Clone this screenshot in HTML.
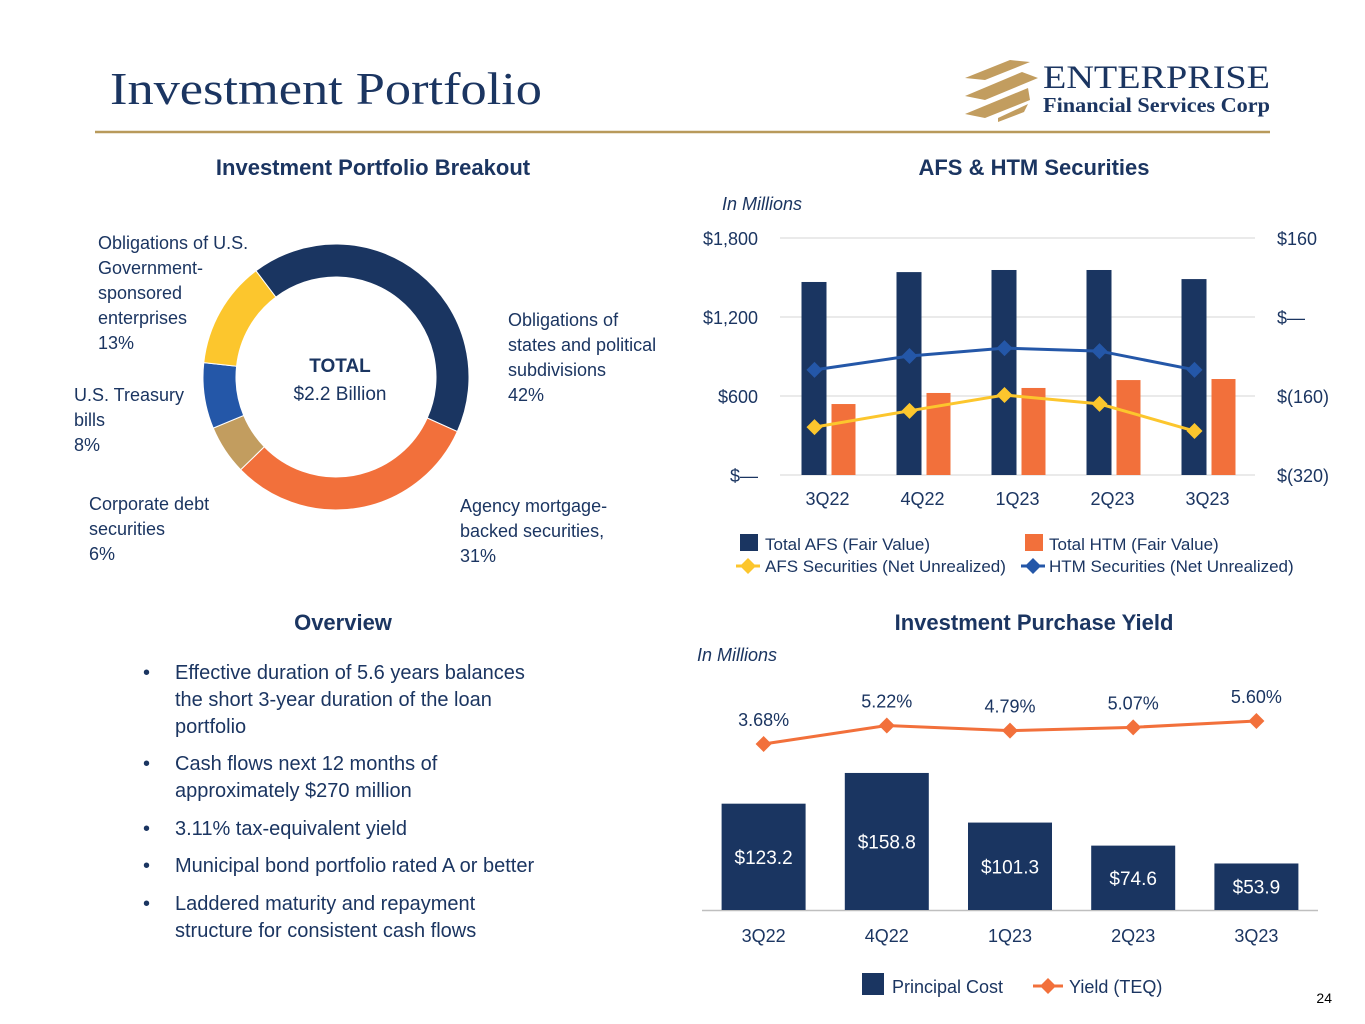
<!DOCTYPE html>
<html><head><meta charset="utf-8"><style>
html,body{margin:0;padding:0;background:#fff;}
svg{display:block;font-family:"Liberation Sans",sans-serif;}
</style></head><body>
<svg id="s" width="1365" height="1024" viewBox="0 0 1365 1024" xmlns="http://www.w3.org/2000/svg">
<text x="110" y="104" font-family="Liberation Serif,serif" font-size="46" fill="#1b3561" textLength="432" lengthAdjust="spacingAndGlyphs">Investment Portfolio</text>
<g>
<polygon points="965,78 1010,60 1030,62 985,80" fill="#c29d5f"/>
<polygon points="965,96 1022,72 1038,78 985,100" fill="#c29d5f"/>
<polygon points="965,114 1028,88 1030,100 985,118" fill="#c29d5f"/>
<polygon points="998,118 1028,104 1024,112 998,122" fill="#c29d5f"/>
<text x="1043" y="88" font-family="Liberation Serif,serif" font-size="33" fill="#1b3561" textLength="227" lengthAdjust="spacingAndGlyphs">ENTERPRISE</text>
<text x="1043" y="112" font-family="Liberation Serif,serif" font-size="21" font-weight="bold" fill="#1b3561" textLength="227" lengthAdjust="spacingAndGlyphs">Financial Services Corp</text>
</g>
<line x1="95" y1="132" x2="1270" y2="132" stroke="#b89a5b" stroke-width="2.5"/>

<text x="373" y="175" text-anchor="middle" font-size="22" font-weight="bold" fill="#1b3561">Investment Portfolio Breakout</text>
<text x="1034" y="175" text-anchor="middle" font-size="22" font-weight="bold" fill="#1b3561">AFS &amp; HTM Securities</text>
<text x="343" y="630" text-anchor="middle" font-size="22" font-weight="bold" fill="#1b3561">Overview</text>
<text x="1034" y="630" text-anchor="middle" font-size="22" font-weight="bold" fill="#1b3561">Investment Purchase Yield</text>

<g id="donut"></g>
<text x="340" y="372" text-anchor="middle" font-size="19" font-weight="bold" fill="#1b3561">TOTAL</text>
<text x="340" y="400" text-anchor="middle" font-size="19" fill="#1b3561">$2.2 Billion</text>
<g font-size="18" fill="#1b3561">
<text><tspan x="98" y="249">Obligations of U.S.</tspan><tspan x="98" y="274">Government-</tspan><tspan x="98" y="299">sponsored</tspan><tspan x="98" y="324">enterprises</tspan><tspan x="98" y="349">13%</tspan></text>
<text><tspan x="508" y="326">Obligations of</tspan><tspan x="508" y="351">states and political</tspan><tspan x="508" y="376">subdivisions</tspan><tspan x="508" y="401">42%</tspan></text>
<text><tspan x="74" y="401">U.S. Treasury</tspan><tspan x="74" y="426">bills</tspan><tspan x="74" y="451">8%</tspan></text>
<text><tspan x="89" y="510">Corporate debt</tspan><tspan x="89" y="535">securities</tspan><tspan x="89" y="560">6%</tspan></text>
<text><tspan x="460" y="512">Agency mortgage-</tspan><tspan x="460" y="537">backed securities,</tspan><tspan x="460" y="562">31%</tspan></text>
</g>

<text x="722" y="210" font-size="18" font-style="italic" fill="#1b3561">In Millions</text>
<g id="afs"></g>
<g font-size="17" fill="#1b3561">
<rect x="740" y="534" width="18" height="17" fill="#1a3561"/>
<text x="765" y="550">Total AFS (Fair Value)</text>
<rect x="1025" y="534" width="18" height="17" fill="#f2703b"/>
<text x="1049" y="550">Total HTM (Fair Value)</text>
<line x1="736" y1="566" x2="760" y2="566" stroke="#fcc62d" stroke-width="3"/>
<polygon points="748,558 756,566 748,574 740,566" fill="#fcc62d"/>
<text x="765" y="572">AFS Securities (Net Unrealized)</text>
<line x1="1021" y1="566" x2="1045" y2="566" stroke="#2457a8" stroke-width="3"/>
<polygon points="1033,558 1041,566 1033,574 1025,566" fill="#2457a8"/>
<text x="1049" y="572">HTM Securities (Net Unrealized)</text>
</g>

<g font-size="20" fill="#1b3561">
<text><tspan x="143" y="679">•</tspan><tspan x="175" y="679">Effective duration of 5.6 years balances</tspan><tspan x="175" y="706">the short 3-year duration of the loan</tspan><tspan x="175" y="733">portfolio</tspan></text>
<text><tspan x="143" y="770">•</tspan><tspan x="175" y="770">Cash flows next 12 months of</tspan><tspan x="175" y="797">approximately $270 million</tspan></text>
<text><tspan x="143" y="835">•</tspan><tspan x="175" y="835">3.11% tax-equivalent yield</tspan></text>
<text><tspan x="143" y="872">•</tspan><tspan x="175" y="872">Municipal bond portfolio rated A or better</tspan></text>
<text><tspan x="143" y="910">•</tspan><tspan x="175" y="910">Laddered maturity and repayment</tspan><tspan x="175" y="937">structure for consistent cash flows</tspan></text>
</g>

<text x="697" y="661" font-size="18" font-style="italic" fill="#1b3561">In Millions</text>
<g id="yld"></g>
<g font-size="18" fill="#1b3561">
<rect x="862" y="973" width="22" height="22" fill="#1a3561"/>
<text x="892" y="993">Principal Cost</text>
<line x1="1033" y1="986" x2="1063" y2="986" stroke="#f2703b" stroke-width="3"/>
<polygon points="1048,978 1056,986 1048,994 1040,986" fill="#f2703b"/>
<text x="1069" y="993">Yield (TEQ)</text>
</g>
<text x="1332" y="1003" text-anchor="end" font-size="14" fill="#000">24</text>
</svg>
<script>
const NS="http://www.w3.org/2000/svg";
const sliceNames=["states-political","agency-mbs","corporate-debt","treasury-bills","gse-obligations"];
const slicePct=[42,31,6,8,13];
const sliceColors=["#1a3561","#f2703b","#c29d5f","#2457a8","#fcc62d"];

const quarters=["3Q22","4Q22","1Q23","2Q23","3Q23"];
const afsFair=[1466,1541,1557,1557,1488];
const htmFair=[539,623,661,721,729];
const afsUnreal=[-223,-190,-158,-176,-231];
const htmUnreal=[-107,-79,-63,-69,-107];
const leftTicks=[0,600,1200,1800];
const leftTickLabels=["$—","$600","$1,200","$1,800"];
const rightTicks=[-320,-160,0,160];
const rightTickLabels=["$(320)","$(160)","$—","$160"];

const principal=[123.2,158.8,101.3,74.6,53.9];
const principalLabels=["$123.2","$158.8","$101.3","$74.6","$53.9"];
const yieldPct=[3.68,5.22,4.79,5.07,5.60];
const yieldLabels=["3.68%","5.22%","4.79%","5.07%","5.60%"];

function mk(tag,attrs,parent){const e=document.createElementNS(NS,tag);for(const k in attrs)e.setAttribute(k,attrs[k]);parent.appendChild(e);return e;}
function diamond(cx,cy,r,fill,parent){return mk("polygon",{points:`${cx},${cy-r} ${cx+r},${cy} ${cx},${cy+r} ${cx-r},${cy}`,fill:fill},parent);}

// Donut
(function(){
const g=document.getElementById("donut");
const cx=336,cy=377,R=133,r=100;
let a=-37*Math.PI/180;
const tot=slicePct.reduce((s,v)=>s+v,0);
slicePct.forEach((v,i)=>{
 const b=a+v/tot*2*Math.PI;
 const p=(ang,rad)=>[cx+rad*Math.sin(ang),cy-rad*Math.cos(ang)];
 const large=(b-a)>Math.PI?1:0;
 const [x1,y1]=p(a,R),[x2,y2]=p(b,R),[x3,y3]=p(b,r),[x4,y4]=p(a,r);
 const el=mk("path",{d:`M${x1},${y1}A${R},${R} 0 ${large} 1 ${x2},${y2}L${x3},${y3}A${r},${r} 0 ${large} 0 ${x4},${y4}Z`,fill:sliceColors[i],stroke:"#fff","stroke-width":1},g);
 
 
 a=b;
});
})();

// AFS & HTM chart
(function(){
const g=document.getElementById("afs");
const x0=780,x1=1255,yTop=238,yBot=475;
const yL=v=>yBot-(v-0)/(1800-0)*(yBot-yTop);
const yR=v=>yBot-(v+320)/(160+320)*(yBot-yTop);
const band=(x1-x0)/quarters.length;
const xc=i=>x0+band*(i+0.5);
leftTicks.forEach((t,i)=>{
 const ln=mk("line",{x1:x0,x2:x1,y1:yL(t),y2:yL(t),stroke:"#e3e3e3","stroke-width":1.5},g);
 
 
 const tx=mk("text",{x:758,y:yL(t)+7,"text-anchor":"end","font-size":18,fill:"#1b3561"},g);tx.textContent=leftTickLabels[i];
 
 
});
rightTicks.forEach((t,i)=>{
 const tx=mk("text",{x:1277,y:yR(t)+7,"font-size":18,fill:"#1b3561"},g);tx.textContent=rightTickLabels[i];
 
 
});
quarters.forEach((q,i)=>{
 const c=xc(i);
 const b1=mk("rect",{x:c-26,y:yL(afsFair[i]),width:25,height:yL(0)-yL(afsFair[i]),fill:"#1a3561"},g);
 
 
 const b2=mk("rect",{x:c+4,y:yL(htmFair[i]),width:24,height:yL(0)-yL(htmFair[i]),fill:"#f2703b"},g);
 
 
 const tx=mk("text",{x:c,y:505,"text-anchor":"middle","font-size":18,fill:"#1b3561"},g);tx.textContent=q;
 
 
});
[[htmUnreal,"#2457a8","htm"],[afsUnreal,"#fcc62d","afs"]].forEach(([arr,col,nm])=>{
 const pl=mk("polyline",{points:arr.map((v,i)=>`${xc(i)-13},${yR(v)}`).join(" "),fill:"none",stroke:col,"stroke-width":3},g);
 
 
 arr.forEach((v,i)=>{const d=diamond(xc(i)-13,yR(v),8,col,g);
  
  });
});
})();

// Yield chart
(function(){
const g=document.getElementById("yld");
const x0=702,x1=1318,base=910;
const band=(x1-x0)/quarters.length;
const xc=i=>x0+band*(i+0.5);
const yB=v=>base-v*0.863;
const yY=v=>744-(v-3.68)*12;
const ax=mk("line",{x1:x0,x2:x1,y1:base+0.5,y2:base+0.5,stroke:"#bfbfbf","stroke-width":1.5},g);


quarters.forEach((q,i)=>{
 const c=xc(i);
 const b=mk("rect",{x:c-42,y:yB(principal[i]),width:84,height:base-yB(principal[i]),fill:"#1a3561"},g);
 
 
 const lb=mk("text",{x:c,y:(yB(principal[i])+base)/2+7,"text-anchor":"middle","font-size":19,fill:"#fff"},g);lb.textContent=principalLabels[i];
 
 
 const tx=mk("text",{x:c,y:942,"text-anchor":"middle","font-size":18,fill:"#1b3561"},g);tx.textContent=q;
 
 
});
const pl=mk("polyline",{points:yieldPct.map((v,i)=>`${xc(i)},${yY(v)}`).join(" "),fill:"none",stroke:"#f2703b","stroke-width":3},g);


yieldPct.forEach((v,i)=>{
 const d=diamond(xc(i),yY(v),8,"#f2703b",g);
 
 
 const lb=mk("text",{x:xc(i),y:yY(v)-18,"text-anchor":"middle","font-size":18,fill:"#1b3561"},g);lb.textContent=yieldLabels[i];
 
 
});
})();
</script>
</body></html>
